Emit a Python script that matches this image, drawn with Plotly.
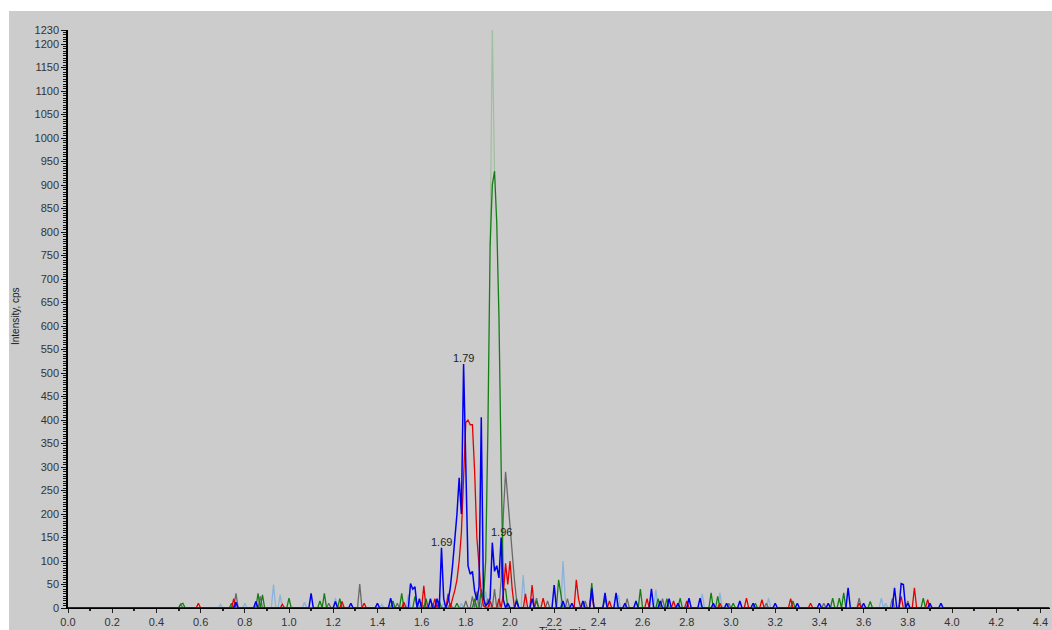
import numpy as np
import plotly.graph_objects as go

# ---------------- data ----------------
time_step = 0.01
time_max = 4.44

blue_t = [0.76, 0.85, 1.10, 1.21, 1.28, 1.40, 1.46, 1.55, 1.56, 1.57, 1.59, 1.64, 1.67, 1.69, 1.70, 1.72,
          1.73, 1.74, 1.75, 1.76, 1.77, 1.78, 1.79, 1.80, 1.81, 1.82, 1.83, 1.84, 1.85, 1.86, 1.87, 1.88,
          1.89, 1.90, 1.91, 1.92, 1.93, 1.94, 1.95, 1.96, 1.97, 1.99, 2.03, 2.10, 2.20, 2.24, 2.28, 2.33,
          2.37, 2.43, 2.48, 2.52, 2.57, 2.64, 2.68, 2.72, 2.76, 2.81, 2.86, 2.92, 2.98, 3.04, 3.10, 3.20,
          3.30, 3.40, 3.44, 3.53, 3.60, 3.74, 3.77, 3.78, 3.80, 3.90, 3.95]
blue_v = [12, 14, 31, 14, 10, 10, 21, 52, 40, 45, 20, 20, 20, 128, 20, 15,
          44, 90, 142, 200, 277, 200, 519, 290, 90, 72, 78, 36, 17, 45, 406, 20,
          5, 10, 20, 139, 78, 90, 64, 150, 17, 10, 15, 20, 49, 15, 10, 15,
          42, 32, 32, 10, 15, 41, 15, 20, 10, 21, 21, 10, 10, 15, 10, 10,
          10, 10, 10, 43, 10, 43, 52, 50, 10, 10, 10]

red_t = [0.59, 0.75, 0.97, 1.24, 1.34, 1.52, 1.61, 1.66, 1.72, 1.74, 1.75, 1.76, 1.77, 1.78, 1.79, 1.80,
         1.81, 1.82, 1.83, 1.84, 1.85, 1.86, 1.87, 1.88, 1.91, 1.95, 1.97, 1.98, 1.99, 2.00, 2.01, 2.07,
         2.10, 2.15, 2.30, 2.31, 2.37, 2.45, 2.62, 2.74, 2.80, 2.95, 3.07, 3.14, 3.27, 3.36, 3.58, 3.77,
         3.83, 3.89]
red_v = [10, 20, 8, 14, 10, 12, 47, 20, 30, 20, 37, 60, 100, 160, 285, 395,
         400, 390, 390, 290, 150, 87, 30, 5, 15, 20, 30, 95, 50, 100, 40, 30,
         49, 21, 60, 20, 30, 15, 20, 15, 15, 10, 21, 18, 20, 10, 10, 25,
         43, 18]

green_t = [0.51, 0.52, 0.74, 0.86, 0.88, 1.00, 1.14, 1.16, 1.23, 1.47, 1.51, 1.57, 1.62, 1.68, 1.76, 1.84,
           1.87, 1.88, 1.89, 1.90, 1.91, 1.92, 1.93, 1.94, 1.95, 1.96, 1.97, 1.98, 2.03, 2.12, 2.22, 2.23,
           2.37, 2.43, 2.59, 2.67, 2.71, 2.77, 2.91, 2.94, 3.01, 3.11, 3.28, 3.46, 3.49, 3.51, 3.63, 3.87]
green_v = [8, 10, 10, 31, 28, 21, 15, 31, 20, 15, 31, 25, 20, 15, 10, 20,
           40, 20, 100, 380, 770, 900, 930, 820, 620, 300, 40, 40, 20, 15, 60, 30,
           53, 21, 40, 20, 20, 21, 32, 25, 10, 10, 15, 21, 21, 32, 14, 21]

pale_green_t = [1.91, 1.92, 1.93]
pale_green_v = [770, 1230, 930]

gray_t = [0.51, 0.76, 0.87, 1.18, 1.32, 1.49, 1.60, 1.65, 1.73, 1.80, 1.83, 1.85, 1.88, 1.90, 1.93, 1.96,
          1.97, 1.98, 1.99, 2.00, 2.01, 2.02, 2.03, 2.12, 2.17, 2.26, 2.34, 2.53, 2.69, 2.99, 3.16, 3.42,
          3.58, 3.73, 3.80]
gray_v = [8, 31, 25, 10, 51, 10, 12, 10, 10, 15, 25, 35, 30, 20, 40, 60,
          200, 290, 230, 180, 120, 60, 15, 21, 15, 20, 15, 20, 20, 10, 10, 10,
          21, 20, 15]

lightblue_t = [0.69, 0.80, 0.93, 0.96, 1.07, 1.21, 1.42, 1.54, 1.70, 1.78, 1.86, 1.89, 1.91, 2.06, 2.24,
               2.25, 2.49, 2.66, 2.87, 2.95, 3.17, 3.68, 3.70]
lightblue_v = [8, 10, 50, 28, 12, 21, 8, 28, 10, 10, 30, 35, 20, 70, 100,
               20, 28, 39, 30, 32, 21, 21, 10]

peak_labels = ["1.69", "1.79", "1.96"]
peak_times = [1.69, 1.79, 1.96]
peak_heights = [128, 519, 150]

threshold_value = 65

y_tick_vals = list(range(0, 1201, 50)) + [1230]

# ---------------- build ----------------
grid = np.round(np.arange(0, time_max + time_step / 2, time_step), 2)


def on_grid(ts, vs):
    y = np.zeros(len(grid))
    idx = np.rint(np.array(ts) / time_step).astype(int)
    y[idx] = vs
    return y


fig = go.Figure()

series = [
    ("lightblue", lightblue_t, lightblue_v, "rgb(140,178,218)"),
    ("gray", gray_t, gray_v, "rgb(105,105,105)"),
    ("green", green_t, green_v, "rgb(20,125,20)"),
    ("red", red_t, red_v, "rgb(228,0,0)"),
]

fig.add_trace(go.Scatter(x=pale_green_t, y=pale_green_v, mode="lines",
                         line=dict(color="rgb(160,190,160)", width=1.2), hoverinfo="skip"))
for name, ts, vs, col in series:
    fig.add_trace(go.Scatter(x=grid, y=on_grid(ts, vs), mode="lines", name=name,
                             line=dict(color=col, width=1.3)))
fig.add_trace(go.Scatter(x=grid, y=on_grid(blue_t, blue_v), mode="lines", name="blue",
                         line=dict(color="rgb(0,0,240)", width=1.5)))

fig.add_trace(go.Scatter(x=[-0.012], y=[threshold_value], mode="markers",
                         marker=dict(symbol="triangle-right", size=9, color="rgb(0,0,120)"),
                         cliponaxis=False, hoverinfo="skip"))

W, H = 1052, 630
L, R, T, B = 68, 2, 30, 22
pw, ph = W - L - R, H - T - B
x_max = pw / 221.0

for lab, t, h in zip(peak_labels, peak_times, peak_heights):
    fig.add_annotation(x=t, y=h, text=lab, showarrow=False, yanchor="bottom", xanchor="center",
                       yshift=-2, font=dict(size=11, color="#222", family="Liberation Sans, Arial"))

# axis titles
fig.add_annotation(xref="paper", yref="paper", x=(15 - L) / pw, y=(608 - 316) / ph,
                   text="Intensity, cps", textangle=-90, showarrow=False,
                   xanchor="center", yanchor="middle",
                   font=dict(size=10, color="#222", family="Liberation Sans, Arial"))
fig.add_annotation(xref="paper", yref="paper", x=(563 - L) / pw, y=(608 - 631) / ph,
                   text="Time, min", showarrow=False, xanchor="center", yanchor="middle",
                   font=dict(size=11, color="#222", family="Liberation Sans, Arial"))

# grey panel extending beyond plot area
fig.add_shape(type="rect", xref="paper", yref="paper", layer="below",
              x0=(9 - L) / pw, x1=1.01, y0=-0.1, y1=(608 - 11) / ph,
              fillcolor="rgb(204,204,204)", line=dict(width=0))

fig.update_layout(
    width=W, height=H,
    margin=dict(l=L, r=R, t=T, b=B, pad=0),
    paper_bgcolor="white",
    plot_bgcolor="rgb(204,204,204)",
    showlegend=False,
    font=dict(family="Liberation Sans, Arial", size=11, color="#333"),
    xaxis=dict(range=[0, x_max], showgrid=False, zeroline=False,
               showline=True, linecolor="black", linewidth=1,
               tickmode="linear", tick0=0, dtick=0.2, tickformat=".1f",
               ticks="outside", ticklen=4, tickwidth=1, tickcolor="#222",
               minor=dict(tickmode="linear", tick0=0, dtick=0.1, ticks="outside",
                          ticklen=2, tickwidth=1.5, tickcolor="#222"),
               tickfont=dict(size=11, color="#333")),
    yaxis=dict(range=[0, 1230], showgrid=False, zeroline=False,
               showline=True, linecolor="black", linewidth=1.5,
               tickmode="array", tickvals=y_tick_vals,
               ticktext=[str(v) for v in y_tick_vals],
               ticks="outside", ticklen=5, tickwidth=1, tickcolor="#111",
               minor=dict(tickmode="linear", tick0=0, dtick=5, ticks="outside",
                          ticklen=3, tickwidth=1, tickcolor="#111"),
               tickfont=dict(size=11, color="#333")),
)

fig.write_html("out.html")
